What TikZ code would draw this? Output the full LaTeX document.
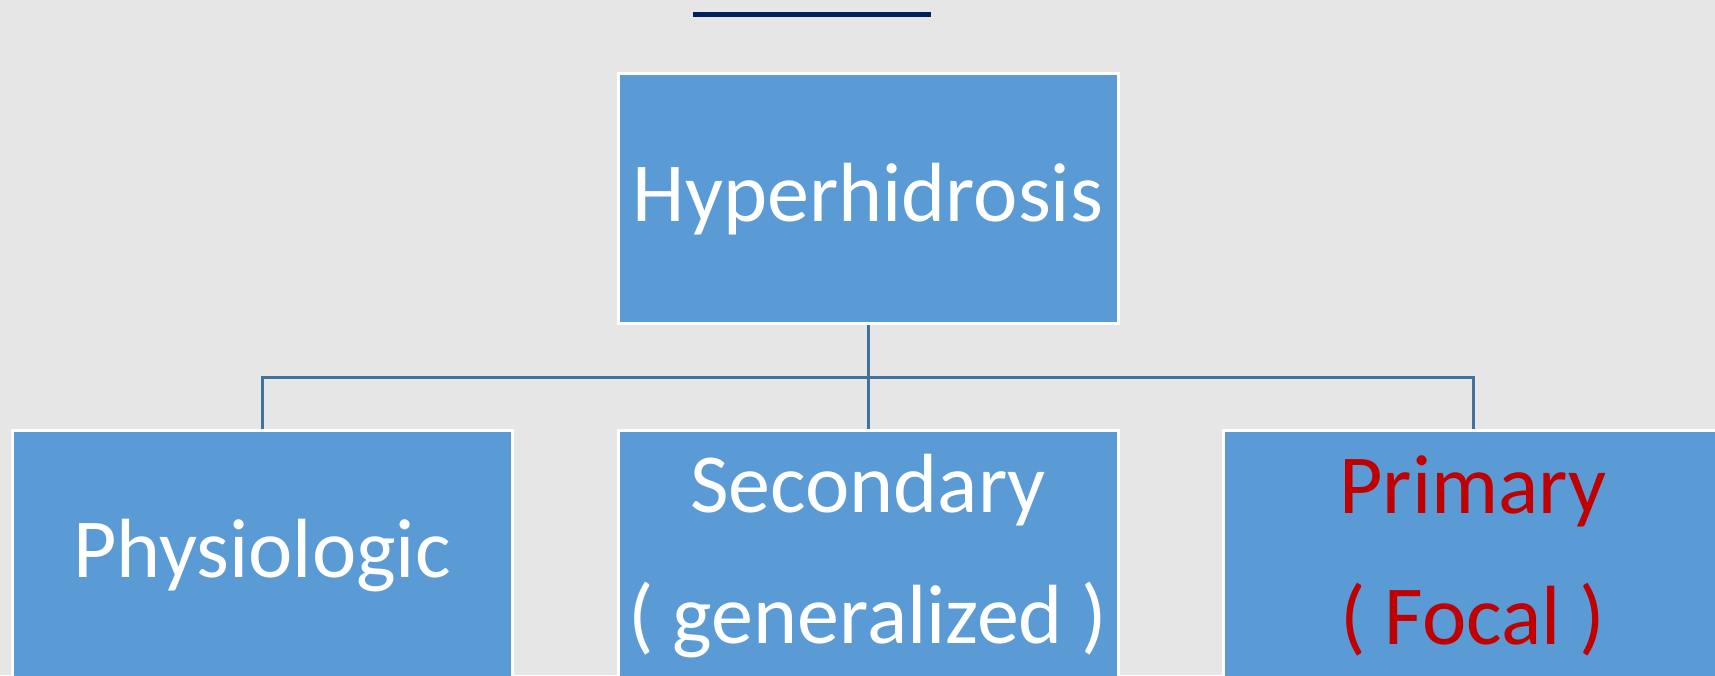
\documentclass[tikz,border=0pt]{standalone}
\usepackage{fontspec}
\setmainfont{Carlito}
\usetikzlibrary{positioning,calc}
\definecolor{bgGray}{HTML}{E6E6E6}
\definecolor{boxBlue}{HTML}{5B9BD5}
\definecolor{lineBlue}{HTML}{41719C}
\definecolor{titleNavy}{HTML}{002060}
\definecolor{darkRed}{HTML}{C00000}
\tikzset{
  box/.style={draw=white, line width=3pt, fill=boxBlue, text=white,
    minimum width=500pt, minimum height=250pt, align=center,
    font=\fontsize{84}{131}\selectfont, inner sep=0pt},
  conn/.style={draw=lineBlue, line width=3pt}
}
\begin{document}
\begin{tikzpicture}[x=1pt, y=1pt, line join=miter]
	%Nền.
	\fill[bgGray] (0,0) rectangle (1715,675);
	\useasboundingbox (0,0) rectangle (1715,675);
	\clip (0,0) rectangle (1715,675);
	%Gạch tiêu đề.
	\fill[titleNavy] (693,658) rectangle (931,663);
	%Các hộp.
	\node[box] (hyp) at (868,476) {Hyperhidrosis};
	\node[box, below=104pt of hyp] (sec) {Secondary\\( generalized )};
	\node[box, left=103pt of sec] (phys) {Physiologic};
	\node[box, right=102pt of sec, text=darkRed] (prim) {Primary\\( Focal )};
	%Đường nối.
	\coordinate (bus) at ($(hyp.south)!0.5!(sec.north)$);
	\draw[conn] (hyp.south) -- (sec.north);
	\draw[conn] (phys.north) |- (bus) -| (prim.north);
\end{tikzpicture}
\end{document}
